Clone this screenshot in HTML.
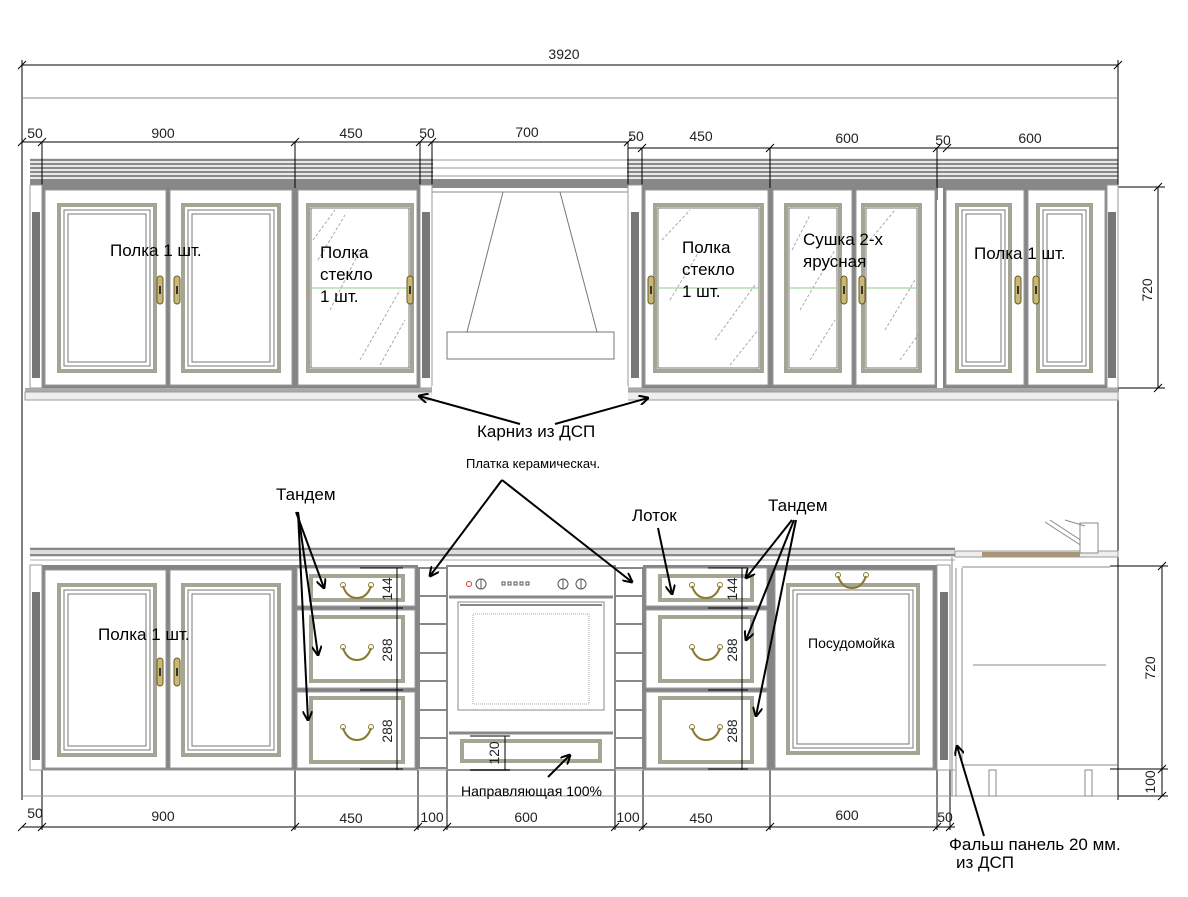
<!DOCTYPE html>
<html><head><meta charset="utf-8"><style>
html,body{margin:0;padding:0;background:#fff}
svg{display:block}
text{font-family:"Liberation Sans",sans-serif}
.d{font-size:14px;fill:#222}
.l{font-size:17px;fill:#000}
</style></head><body>
<svg width="1188" height="897" viewBox="0 0 1188 897" xmlns="http://www.w3.org/2000/svg">
<defs>
<marker id="a" markerWidth="10" markerHeight="10" refX="9" refY="5" orient="auto" markerUnits="userSpaceOnUse"><path d="M0,0 L10,5 L0,10" fill="none" stroke="#000" stroke-width="2"/></marker>
<g id="hd"><rect x="-3" y="-14" width="6" height="28" rx="3" fill="#c8b878" stroke="#6a5a20" stroke-width="1"/><rect x="-1" y="-4" width="2" height="8" fill="#333"/></g>
<g id="bh"><path d="M-14,-6 Q-10,6 0,6 Q10,6 14,-6" fill="none" stroke="#8a7a30" stroke-width="2"/><circle cx="-14" cy="-7" r="2.5" fill="none" stroke="#8a7a30"/><circle cx="14" cy="-7" r="2.5" fill="none" stroke="#8a7a30"/></g>
</defs>
<!-- upper cornice -->
<rect x="30" y="158" width="1088" height="30" fill="#e8e8e8"/>
<g stroke="#8a8a8a" stroke-width="2"><line x1="30" y1="160" x2="1118" y2="160"/><line x1="30" y1="164" x2="1118" y2="164"/><line x1="30" y1="168" x2="1118" y2="168"/><line x1="30" y1="172" x2="1118" y2="172"/><line x1="30" y1="176" x2="1118" y2="176"/></g>
<rect x="30" y="179" width="1088" height="9" fill="#888"/>
<g fill="none" stroke="#000" stroke-width="1">
<line x1="22" y1="60" x2="22" y2="800"/><line x1="1118" y1="60" x2="1118" y2="800"/>
<line x1="22" y1="65" x2="1118" y2="65"/><line x1="22" y1="98" x2="1118" y2="98" stroke="#888"/>
<line x1="22" y1="142" x2="432" y2="142"/><line x1="628" y1="148" x2="1118" y2="148"/><line x1="432" y1="142" x2="628" y2="142"/>
<line x1="22" y1="827" x2="955" y2="827"/>
</g>
<g stroke="#000" stroke-width="1">
<line x1="18" y1="69" x2="26" y2="61"/><line x1="1114" y1="69" x2="1122" y2="61"/>
<line x1="18" y1="146" x2="26" y2="138"/><line x1="38" y1="146" x2="46" y2="138"/><line x1="291" y1="146" x2="299" y2="138"/><line x1="416" y1="146" x2="424" y2="138"/><line x1="428" y1="146" x2="436" y2="138"/><line x1="624" y1="146" x2="632" y2="138"/><line x1="638" y1="152" x2="646" y2="144"/><line x1="766" y1="152" x2="774" y2="144"/><line x1="933" y1="152" x2="941" y2="144"/><line x1="943" y1="152" x2="951" y2="144"/>
<line x1="42" y1="142" x2="42" y2="200"/><line x1="295" y1="142" x2="295" y2="200"/><line x1="420" y1="142" x2="420" y2="200"/><line x1="432" y1="142" x2="432" y2="200"/><line x1="628" y1="142" x2="628" y2="200"/><line x1="642" y1="148" x2="642" y2="200"/><line x1="770" y1="148" x2="770" y2="200"/><line x1="937" y1="148" x2="937" y2="200"/>
<line x1="18" y1="831" x2="26" y2="823"/><line x1="38" y1="831" x2="46" y2="823"/><line x1="291" y1="831" x2="299" y2="823"/><line x1="414" y1="831" x2="422" y2="823"/><line x1="443" y1="831" x2="451" y2="823"/><line x1="611" y1="831" x2="619" y2="823"/><line x1="639" y1="831" x2="647" y2="823"/><line x1="766" y1="831" x2="774" y2="823"/><line x1="933" y1="831" x2="941" y2="823"/><line x1="946" y1="831" x2="954" y2="823"/>
<line x1="42" y1="770" x2="42" y2="830"/><line x1="295" y1="770" x2="295" y2="830"/><line x1="418" y1="770" x2="418" y2="830"/><line x1="447" y1="770" x2="447" y2="830"/><line x1="615" y1="770" x2="615" y2="830"/><line x1="643" y1="770" x2="643" y2="830"/><line x1="770" y1="770" x2="770" y2="830"/><line x1="937" y1="770" x2="937" y2="830"/><line x1="950" y1="770" x2="950" y2="830"/>
<line x1="1110" y1="187" x2="1165" y2="187"/><line x1="1110" y1="388" x2="1165" y2="388"/><line x1="1158" y1="187" x2="1158" y2="388"/>
<line x1="1154" y1="191" x2="1162" y2="183"/><line x1="1154" y1="392" x2="1162" y2="384"/>
<line x1="1110" y1="566" x2="1168" y2="566"/><line x1="1110" y1="769" x2="1168" y2="769"/><line x1="1118" y1="796" x2="1168" y2="796"/><line x1="1162" y1="566" x2="1162" y2="796"/>
<line x1="1158" y1="570" x2="1166" y2="562"/><line x1="1158" y1="773" x2="1166" y2="765"/><line x1="1158" y1="800" x2="1166" y2="792"/>
</g>
<rect x="433" y="158" width="194" height="232" fill="#fff"/>
<g stroke="#999"><line x1="433" y1="160" x2="627" y2="160"/><line x1="433" y1="168" x2="627" y2="168"/><line x1="433" y1="176" x2="627" y2="176"/></g>
<rect x="433" y="179" width="194" height="9" fill="#888"/>
<line x1="432" y1="192" x2="628" y2="192" stroke="#888"/>
<!-- upper carcass -->
<rect x="42" y="188" width="378" height="200" fill="#858585"/>
<rect x="642" y="188" width="295" height="200" fill="#858585"/>
<rect x="943" y="188" width="164" height="200" fill="#858585"/>
<g fill="#fff" stroke="#999">
<rect x="45" y="190" width="121" height="195"/><rect x="170" y="190" width="122" height="195"/><rect x="298" y="190" width="119" height="195"/>
<rect x="645" y="190" width="123" height="195"/><rect x="773" y="190" width="79" height="195"/><rect x="856" y="190" width="79" height="195"/>
<rect x="946" y="190" width="78" height="195"/><rect x="1028" y="190" width="77" height="195"/>
</g>
<g fill="none">
<g stroke="#a5a595" stroke-width="4">
<rect x="59" y="205" width="96" height="166"/><rect x="183" y="205" width="96" height="166"/><rect x="308" y="205" width="104" height="166"/>
<rect x="655" y="205" width="107" height="166"/><rect x="786" y="205" width="54" height="166"/><rect x="863" y="205" width="57" height="166"/>
<rect x="957" y="205" width="53" height="166"/><rect x="1038" y="205" width="53" height="166"/>
</g>
<g stroke="#777" stroke-width="1">
<rect x="64" y="210" width="86" height="156"/><rect x="188" y="210" width="86" height="156"/><rect x="311" y="208" width="98" height="160"/>
<rect x="658" y="208" width="101" height="160"/><rect x="789" y="208" width="48" height="160"/><rect x="866" y="208" width="51" height="160"/>
<rect x="962" y="210" width="43" height="156"/><rect x="1043" y="210" width="43" height="156"/>
<rect x="68" y="214" width="78" height="148"/><rect x="192" y="214" width="78" height="148"/>
<rect x="966" y="214" width="35" height="148"/><rect x="1047" y="214" width="35" height="148"/>
</g>
<g stroke="#8c8" stroke-width="1"><line x1="311" y1="288" x2="409" y2="288"/><line x1="658" y1="288" x2="759" y2="288"/><line x1="789" y1="288" x2="837" y2="288"/><line x1="866" y1="288" x2="917" y2="288"/></g>
<g stroke="#aaa" stroke-width="1" stroke-dasharray="3,2">
<path d="M313,240 L335,210 M318,260 L345,215 M330,310 L360,250 M360,360 L400,290 M380,365 L405,320 M662,240 L690,210 M670,300 L700,250 M715,340 L755,285 M730,365 L758,330 M792,250 L810,215 M800,310 L835,250 M810,360 L835,320 M870,240 L895,210 M885,330 L915,280 M900,360 L918,335"/>
</g>
<line x1="503" y1="192" x2="467" y2="332" stroke="#777"/><line x1="560" y1="192" x2="597" y2="332" stroke="#777"/>
<rect x="447" y="332" width="167" height="27" stroke="#777"/>
</g>
<g><rect x="30" y="185" width="12" height="203" fill="#fff" stroke="#999"/><rect x="32" y="212" width="8" height="166" fill="#777"/>
<rect x="420" y="185" width="12" height="203" fill="#fff" stroke="#999"/><rect x="422" y="212" width="8" height="166" fill="#777"/>
<rect x="628" y="185" width="14" height="203" fill="#fff" stroke="#999"/><rect x="631" y="212" width="8" height="166" fill="#777"/>
<rect x="1107" y="185" width="11" height="203" fill="#fff" stroke="#999"/><rect x="1108" y="212" width="8" height="166" fill="#777"/></g>
<g><use href="#hd" x="160" y="290"/><use href="#hd" x="177" y="290"/><use href="#hd" x="410" y="290"/><use href="#hd" x="651" y="290"/><use href="#hd" x="844" y="290"/><use href="#hd" x="862" y="290"/><use href="#hd" x="1018" y="290"/><use href="#hd" x="1036" y="290"/></g>
<rect x="25" y="388" width="407" height="4" fill="#aaa"/><rect x="628" y="388" width="490" height="4" fill="#aaa"/>
<rect x="25" y="392" width="1093" height="8" fill="#eee" stroke="#999"/>
<rect x="432" y="386" width="196" height="20" fill="#fff"/>
<!-- countertop -->
<rect x="30" y="547" width="925" height="10" fill="#ddd"/>
<g stroke="#888" stroke-width="2"><line x1="30" y1="549" x2="955" y2="549"/><line x1="30" y1="555" x2="955" y2="555"/></g>
<rect x="955" y="551" width="163" height="6" fill="#eee" stroke="#999"/>
<rect x="982" y="552" width="98" height="5" fill="#a8977a"/>
<g stroke="#888" fill="none"><path d="M1045,522 L1085,548 M1050,520 L1088,545"/><rect x="1080" y="523" width="18" height="30" fill="#fff"/><path d="M1065,520 L1085,526"/></g>
<line x1="30" y1="560" x2="955" y2="560" stroke="#aaa"/>
<rect x="42" y="565" width="376" height="205" fill="#858585"/>
<rect x="643" y="565" width="127" height="205" fill="#858585"/>
<rect x="770" y="565" width="167" height="205" fill="#858585"/>
<g fill="#fff" stroke="#999">
<rect x="45" y="570" width="121" height="198"/><rect x="170" y="570" width="122" height="198"/>
<rect x="297" y="568" width="118" height="38"/><rect x="297" y="610" width="118" height="78"/><rect x="297" y="692" width="118" height="76"/>
<rect x="646" y="568" width="121" height="38"/><rect x="646" y="610" width="121" height="78"/><rect x="646" y="692" width="121" height="76"/>
<rect x="775" y="570" width="158" height="198"/>
</g>
<g fill="none" stroke="#a5a595" stroke-width="4">
<rect x="59" y="585" width="96" height="170"/><rect x="183" y="585" width="96" height="170"/>
<rect x="311" y="576" width="92" height="24"/><rect x="311" y="617" width="92" height="64"/><rect x="311" y="698" width="92" height="64"/>
<rect x="660" y="576" width="92" height="24"/><rect x="660" y="617" width="92" height="64"/><rect x="660" y="698" width="92" height="64"/>
<rect x="788" y="585" width="130" height="168"/>
</g>
<g fill="none" stroke="#777">
<rect x="64" y="590" width="86" height="160"/><rect x="188" y="590" width="86" height="160"/><rect x="68" y="594" width="78" height="152"/><rect x="192" y="594" width="78" height="152"/>
<rect x="793" y="590" width="120" height="158"/><rect x="797" y="594" width="112" height="150"/>
</g>
<g><use href="#hd" x="160" y="672"/><use href="#hd" x="177" y="672"/></g>
<g><use href="#bh" x="357" y="592"/><use href="#bh" x="357" y="654"/><use href="#bh" x="357" y="734"/><use href="#bh" x="706" y="592"/><use href="#bh" x="706" y="654"/><use href="#bh" x="706" y="734"/><use href="#bh" x="852" y="582"/><use href="#bh" x="531" y="752"/></g>
<g fill="#fff" stroke="#888" stroke-width="2">
<rect x="419" y="568" width="28" height="200"/><rect x="615" y="568" width="28" height="200"/></g>
<g stroke="#888" stroke-width="2"><line x1="419" y1="596" x2="447" y2="596"/><line x1="419" y1="624" x2="447" y2="624"/><line x1="419" y1="653" x2="447" y2="653"/><line x1="419" y1="681" x2="447" y2="681"/><line x1="419" y1="710" x2="447" y2="710"/><line x1="419" y1="738" x2="447" y2="738"/>
<line x1="615" y1="596" x2="643" y2="596"/><line x1="615" y1="624" x2="643" y2="624"/><line x1="615" y1="653" x2="643" y2="653"/><line x1="615" y1="681" x2="643" y2="681"/><line x1="615" y1="710" x2="643" y2="710"/><line x1="615" y1="738" x2="643" y2="738"/></g>
<rect x="447" y="566" width="168" height="204" fill="#fff" stroke="#888" stroke-width="2"/>
<line x1="449" y1="597" x2="613" y2="597" stroke="#888" stroke-width="3"/>
<rect x="458" y="602" width="146" height="108" fill="#fff" stroke="#888"/>
<line x1="460" y1="605" x2="602" y2="605" stroke="#888" stroke-width="2"/>
<rect x="473" y="614" width="116" height="90" fill="none" stroke="#aaa" stroke-dasharray="1,1"/>
<line x1="449" y1="733" x2="613" y2="733" stroke="#888" stroke-width="3"/>
<rect x="462" y="741" width="138" height="20" fill="none" stroke="#a5a595" stroke-width="4"/>
<g fill="none" stroke="#555"><circle cx="481" cy="584" r="5"/><circle cx="563" cy="584" r="5"/><circle cx="581" cy="584" r="5"/><line x1="481" y1="579" x2="481" y2="589"/><line x1="563" y1="579" x2="563" y2="589"/><line x1="581" y1="579" x2="581" y2="589"/>
<path d="M502,582h3v3h-3zM508,582h3v3h-3zM514,582h3v3h-3zM520,582h3v3h-3zM526,582h3v3h-3z"/></g>
<circle cx="469" cy="584" r="2.5" fill="none" stroke="#d33"/>
<rect x="30" y="565" width="12" height="205" fill="#fff" stroke="#999"/><rect x="32" y="592" width="8" height="168" fill="#777"/>
<rect x="937" y="565" width="13" height="205" fill="#fff" stroke="#999"/><rect x="940" y="592" width="8" height="168" fill="#777"/>
<line x1="30" y1="770" x2="955" y2="770" stroke="#999"/><line x1="22" y1="796" x2="1118" y2="796" stroke="#999"/>
<g fill="none" stroke="#888"><line x1="952" y1="557" x2="952" y2="796"/><line x1="956" y1="568" x2="956" y2="796"/><line x1="962" y1="568" x2="962" y2="765"/><line x1="962" y1="567" x2="1110" y2="567"/><line x1="962" y1="765" x2="1118" y2="765"/>
<line x1="973" y1="665" x2="1106" y2="665"/>
<rect x="989" y="770" width="7" height="26"/><rect x="1085" y="770" width="7" height="26"/></g>
<g stroke="#000"><line x1="397" y1="568" x2="397" y2="770"/><line x1="360" y1="568" x2="403" y2="568"/><line x1="360" y1="608" x2="403" y2="608"/><line x1="360" y1="690" x2="403" y2="690"/><line x1="360" y1="769" x2="403" y2="769"/>
<line x1="742" y1="568" x2="742" y2="770"/><line x1="708" y1="568" x2="748" y2="568"/><line x1="708" y1="608" x2="748" y2="608"/><line x1="708" y1="690" x2="748" y2="690"/><line x1="708" y1="769" x2="748" y2="769"/>
<line x1="505" y1="736" x2="505" y2="770"/><line x1="470" y1="736" x2="510" y2="736"/><line x1="470" y1="770" x2="510" y2="770"/></g>
<g class="d" font-size="13">
<text transform="translate(392,589) rotate(-90)" text-anchor="middle">144</text>
<text transform="translate(392,650) rotate(-90)" text-anchor="middle">288</text>
<text transform="translate(392,731) rotate(-90)" text-anchor="middle">288</text>
<text transform="translate(737,589) rotate(-90)" text-anchor="middle">144</text>
<text transform="translate(737,650) rotate(-90)" text-anchor="middle">288</text>
<text transform="translate(737,731) rotate(-90)" text-anchor="middle">288</text>
<text transform="translate(499,753) rotate(-90)" text-anchor="middle">120</text>
<text transform="translate(1152,290) rotate(-90)" text-anchor="middle">720</text>
<text transform="translate(1155,668) rotate(-90)" text-anchor="middle">720</text>
<text transform="translate(1155,782) rotate(-90)" text-anchor="middle">100</text>
</g>
<g class="d" text-anchor="middle">
<text x="564" y="59">3920</text>
<text x="35" y="138">50</text><text x="163" y="138">900</text><text x="351" y="138">450</text><text x="427" y="138">50</text><text x="527" y="137">700</text>
<text x="636" y="141">50</text><text x="701" y="141">450</text><text x="847" y="143">600</text><text x="943" y="145">50</text><text x="1030" y="143">600</text>
<text x="35" y="818">50</text><text x="163" y="821">900</text><text x="351" y="823">450</text><text x="432" y="822">100</text><text x="526" y="822">600</text><text x="628" y="822">100</text><text x="701" y="823">450</text><text x="847" y="820">600</text><text x="945" y="822">50</text>
</g>
<g class="l">
<text x="110" y="256">Полка 1 шт.</text>
<text x="320" y="258">Полка</text><text x="320" y="280">стекло</text><text x="320" y="302">1 шт.</text>
<text x="682" y="253">Полка</text><text x="682" y="275">стекло</text><text x="682" y="297">1 шт.</text>
<text x="803" y="245">Сушка 2-х</text><text x="803" y="267">ярусная</text>
<text x="974" y="259">Полка 1 шт.</text>
<text x="98" y="640">Полка 1 шт.</text>
<text x="477" y="437">Карниз из ДСП</text>
<text x="276" y="500">Тандем</text><text x="632" y="521">Лоток</text><text x="768" y="511">Тандем</text>
<text x="949" y="850">Фальш панель 20 мм.</text><text x="956" y="868">из ДСП</text>
</g>
<text x="466" y="468" font-size="13" fill="#000" font-family="Liberation Sans, sans-serif">Платка керамическач.</text>
<text x="461" y="796" font-size="14" fill="#000" font-family="Liberation Sans, sans-serif">Направляющая 100%</text>
<text x="808" y="648" font-size="14" fill="#000" font-family="Liberation Sans, sans-serif">Посудомойка</text>
<g stroke="#000" stroke-width="2" fill="none" marker-end="url(#a)">
<line x1="520" y1="424" x2="419" y2="396"/><line x1="555" y1="424" x2="648" y2="398"/>
<line x1="502" y1="480" x2="430" y2="576"/><line x1="502" y1="480" x2="632" y2="582"/>
<line x1="296" y1="512" x2="324" y2="588"/><line x1="298" y1="512" x2="318" y2="655"/><line x1="298" y1="512" x2="308" y2="720"/>
<line x1="658" y1="528" x2="672" y2="594"/>
<line x1="792" y1="520" x2="746" y2="578"/><line x1="794" y1="520" x2="746" y2="640"/><line x1="796" y1="520" x2="756" y2="716"/>
<line x1="548" y1="777" x2="570" y2="755"/>
<line x1="984" y1="836" x2="957" y2="746"/>
</g>
</svg>
</body></html>
